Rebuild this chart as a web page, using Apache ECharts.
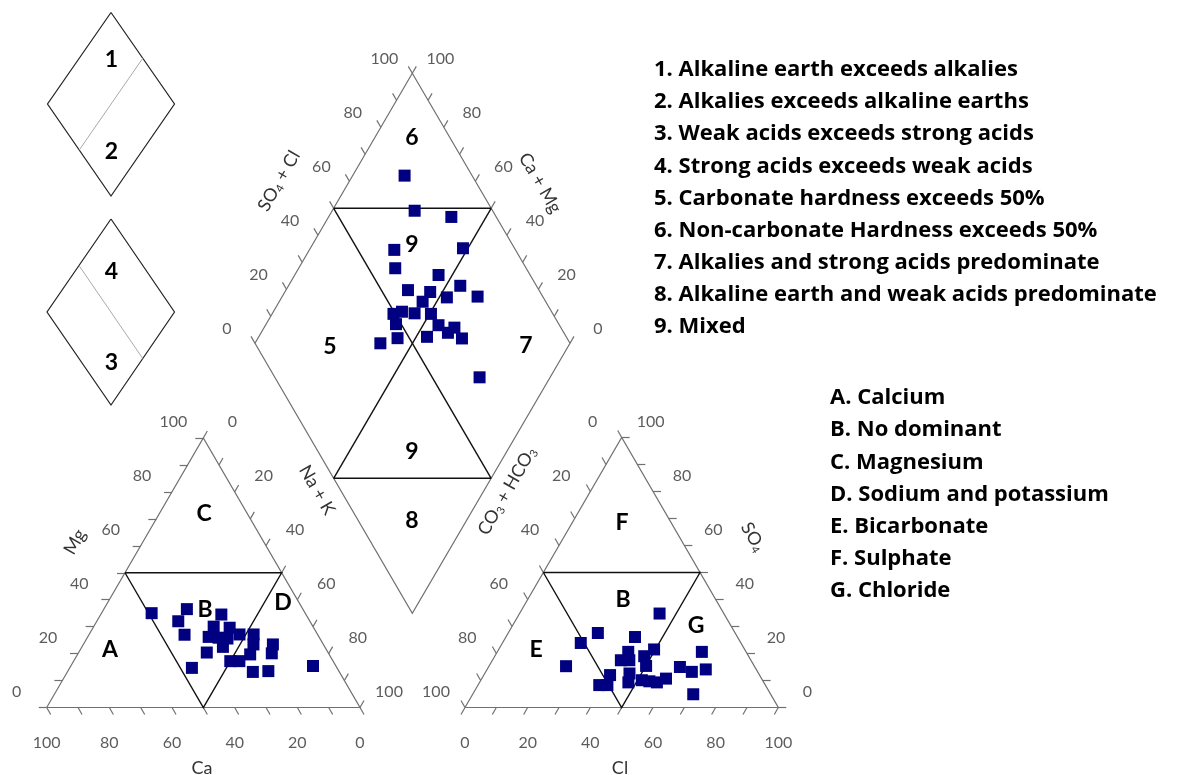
<!DOCTYPE html>
<html>
<head>
<meta charset="utf-8">
<script src="https://cdn.jsdelivr.net/npm/echarts@6/dist/echarts.min.js"></script>
<style>
  html, body { margin: 0; padding: 0; background: #fff; }
  #main { width: 1184px; height: 775px; }
</style>
</head>
<body>
<div id="main"></div>
<script>
// cation triangle samples (%)
var cationCa = [49, 37, 42, 42.5, 27, 31.7, 26.8, 35.2, 32.2, 29.5, 32.5, 24.9, 20.4, 22.3, 38.7, 25.2, 16.1, 18.1, 32.8, 29.9, 46.3, 27.6, 22.5, 7.3];
var cationMg = [35, 36.5, 32, 27, 34.5, 30, 29.6, 26.2, 25.9, 25.6, 22.5, 27.1, 27.1, 23.4, 20.4, 19.7, 23.4, 20.1, 17.2, 17.2, 14.7, 13.2, 13.5, 15.4];
// anion triangle samples (%)
var anionCl = [44.7, 28.6, 25, 41.2, 24.6, 41.8, 41, 43.7, 49.6, 47.7, 50.1, 40.3, 38.7, 41.3, 46.2, 47.5, 51.4, 54, 56.6, 58.8, 61.1, 65.8, 65.3, 69.8, 70.4];
var anionSO4 = [34.8, 27.6, 23.9, 26.1, 15.3, 20.6, 17.5, 17.5, 21.5, 19, 15.4, 12, 8.3, 8.3, 12.6, 9.3, 10.1, 9.7, 9.3, 10.7, 15, 13.2, 20.6, 14.1, 4.9];
// diamond samples (%)
var diamondSO4Cl = [78.5, 75.2, 85.7, 61.5, 83.6, 58.4, 70.9, 58.4, 65.1, 75.8, 60.9, 69.4, 79.3, 49.4, 52.5, 56.2, 61.3, 48.3, 61.6, 66.2, 63.2, 66.6, 46.2, 39.8, 55.8, 65];
var diamondCaMg = [83.6, 73.9, 61.1, 73.1, 51.6, 69.4, 54.4, 61.3, 53.9, 45.5, 54.5, 47.6, 38, 61.5, 59.2, 54.9, 49.6, 58.8, 45.1, 39.6, 40.7, 35.2, 55.7, 60.2, 46.6, 22.4];

var tickLabels = [0, 20, 40, 60, 80, 100];
var tickSteps = [0, 10, 20, 30, 40, 50, 60, 70, 80, 90, 100];

var classLegend = [
  '1. Alkaline earth exceeds alkalies',
  '2. Alkalies exceeds alkaline earths',
  '3. Weak acids exceeds strong acids',
  '4. Strong acids exceeds weak acids',
  '5. Carbonate hardness exceeds 50%',
  '6. Non-carbonate Hardness exceeds 50%',
  '7. Alkalies and strong acids predominate',
  '8. Alkaline earth and weak acids predominate',
  '9. Mixed'
];
var typeLegend = [
  'A. Calcium',
  'B. No dominant',
  'C. Magnesium',
  'D. Sodium and potassium',
  'E. Bicarbonate',
  'F. Sulphate',
  'G. Chloride'
];

// layout of the three plots, in page pixels
var CAT = { bl: [46.7, 707.5], br: [360, 707.5], top: [203.3, 438] };
var AN = { bl: [465, 707.5], br: [778.3, 707.5], top: [621.7, 437.5] };
var DIA = { top: [412.3, 73.3], left: [255, 343.3], right: [570, 343.3], bottom: [412.3, 613.3] };

function lerp(a, b, t) {
  return [a[0] + (b[0] - a[0]) * t, a[1] + (b[1] - a[1]) * t];
}
function mix(o, a, ta, b, tb) {
  return [o[0] + (a[0] - o[0]) * ta + (b[0] - o[0]) * tb,
          o[1] + (a[1] - o[1]) * ta + (b[1] - o[1]) * tb];
}
function cationXY(ca, mg) { return mix(CAT.br, CAT.bl, ca / 100, CAT.top, mg / 100); }
function anionXY(cl, so4) { return mix(AN.bl, AN.br, cl / 100, AN.top, so4 / 100); }
function diamondXY(s, c) { return mix(DIA.bottom, DIA.right, s / 100, DIA.left, c / 100); }

var S60 = Math.sqrt(3) / 2;
// each axis: from point (value 0), to point (value 100), tick direction, label offset
var axes = [
  { a: CAT.bl, b: CAT.top, dir: [-1, 0], off: [-30, -16] },        // Mg
  { a: CAT.top, b: CAT.br, dir: [0.5, -S60], off: [29, -16] },      // Na + K
  { a: CAT.br, b: CAT.bl, dir: [0.5, S60], off: [0, 35] },          // Ca
  { a: AN.top, b: AN.bl, dir: [-0.5, -S60], off: [-29, -16] },      // CO3 + HCO3
  { a: AN.br, b: AN.top, dir: [1, 0], off: [29, -16] },             // SO4
  { a: AN.bl, b: AN.br, dir: [-0.5, S60], off: [0, 35] },           // Cl
  { a: DIA.left, b: DIA.top, dir: [-0.5, -S60], off: [-28, -14] },  // SO4 + Cl
  { a: DIA.right, b: DIA.top, dir: [0.5, -S60], off: [28, -14] }    // Ca + Mg
];

var tickLines = [];
var labelData = [];
axes.forEach(function (ax) {
  tickSteps.forEach(function (v) {
    var p = lerp(ax.a, ax.b, v / 100);
    tickLines.push({ coords: [p, [p[0] + ax.dir[0] * 8, p[1] + ax.dir[1] * 8]] });
  });
  tickLabels.forEach(function (v) {
    var p = lerp(ax.a, ax.b, v / 100);
    labelData.push([p[0] + ax.off[0], p[1] + ax.off[1], v]);
  });
});

var frameLines = [
  { coords: [CAT.bl, CAT.br, CAT.top, CAT.bl] },
  { coords: [AN.bl, AN.br, AN.top, AN.bl] },
  { coords: [DIA.top, DIA.right, DIA.bottom, DIA.left, DIA.top] }
];

function innerTri(t) {
  var l = lerp(t.bl, t.top, 0.5), r = lerp(t.top, t.br, 0.5), m = lerp(t.bl, t.br, 0.5);
  return { coords: [l, r, m, l] };
}
var dUL = lerp(DIA.left, DIA.top, 0.5), dUR = lerp(DIA.top, DIA.right, 0.5);
var dLL = lerp(DIA.left, DIA.bottom, 0.5), dLR = lerp(DIA.bottom, DIA.right, 0.5);
var zoneLines = [
  innerTri(CAT), innerTri(AN),
  { coords: [dUL, dUR] }, { coords: [dLL, dLR] },
  { coords: [dUL, dLR] }, { coords: [dUR, dLL] }
];

// small key diamonds
var K1 = { top: [111, 12.5], left: [47.5, 104], right: [174.5, 104], bottom: [111, 196] };
var K2 = { top: [111, 219], left: [47, 312], right: [174.5, 312], bottom: [111, 405] };
var keyLines = [
  { coords: [K1.top, K1.right, K1.bottom, K1.left, K1.top] },
  { coords: [K2.top, K2.right, K2.bottom, K2.left, K2.top] }
];
var keySplit = [
  { coords: [lerp(K1.top, K1.right, 0.5), lerp(K1.left, K1.bottom, 0.5)] },
  { coords: [lerp(K2.left, K2.top, 0.5), lerp(K2.bottom, K2.right, 0.5)] }
];

var cationPts = cationCa.map(function (ca, i) { return cationXY(ca, cationMg[i]); });
var anionPts = anionCl.map(function (cl, i) { return anionXY(cl, anionSO4[i]); });
var diamondPts = diamondSO4Cl.map(function (s, i) { return diamondXY(s, diamondCaMg[i]); });

var FONT = 'Lato';
var LEGEND_FONT = '"Open Sans"';
function boldText(str, x, y, size, align, family) {
  return { type: 'text', x: x, y: y, silent: true,
    style: { text: str, fill: '#000', font: 'bold ' + size + 'px ' + (family || FONT),
             align: align || 'center', verticalAlign: 'middle' } };
}
function axisTitle(rich, x, y, rot) {
  return { type: 'text', x: x, y: y, rotation: rot, silent: true,
    style: { text: rich, align: 'center', verticalAlign: 'middle',
      fill: '#333', fontFamily: FONT, fontSize: 18, lineHeight: 20,
      rich: {
        n: { fontFamily: FONT, fontSize: 18, lineHeight: 20, fill: '#333' },
        s: { fontFamily: FONT, fontSize: 11, lineHeight: 12, verticalAlign: 'bottom', fill: '#333' }
      } } };
}

var graphics = [];
classLegend.forEach(function (t, i) { graphics.push(boldText(t, 654, 70 + i * 32.1, 22, 'left', LEGEND_FONT)); });
typeLegend.forEach(function (t, i) { graphics.push(boldText(t, 830, 398 + i * 32.2, 22, 'left', LEGEND_FONT)); });
[['1', 111.5, 60], ['2', 111.5, 152], ['4', 111.5, 272], ['3', 111.5, 363],
 ['A', 110, 650], ['B', 205, 610], ['C', 204, 514], ['D', 283, 603],
 ['E', 536, 650], ['F', 622, 523], ['B', 623, 600], ['G', 696, 626],
 ['6', 412, 138], ['9', 412, 245], ['5', 330, 347], ['7', 526, 346],
 ['9', 412, 452], ['8', 412, 521]].forEach(function (r) {
  graphics.push(boldText(r[0], r[1], r[2], 23));
});
var R = Math.PI / 3;
graphics.push(axisTitle('{n|Mg}', 75, 542, R));
graphics.push(axisTitle('{n|Ca}', 202, 768, 0));
graphics.push(axisTitle('{n|Na + K}', 317, 490, -R));
graphics.push(axisTitle('{n|CO}{s|3}{n| + HCO}{s|3}', 507, 491, R));
graphics.push(axisTitle('{n|SO}{s|4}', 753, 537, -R));
graphics.push(axisTitle('{n|Cl}', 620, 768, 0));
graphics.push(axisTitle('{n|SO}{s|4}{n| + Cl}', 279, 181, R));
graphics.push(axisTitle('{n|Ca + Mg}', 540, 183, -R));

var chart = echarts.init(document.getElementById('main'));
var pointStyle = { color: '#000080', opacity: 1 };
chart.setOption({
  animation: false,
  backgroundColor: '#fff',
  grid: { left: 0, right: 0, top: 0, bottom: 0 },
  xAxis: { type: 'value', min: 0, max: 1184, show: false },
  yAxis: { type: 'value', min: 0, max: 775, inverse: true, show: false },
  graphic: graphics,
  series: [
    { name: 'frame', type: 'lines', coordinateSystem: 'cartesian2d', polyline: true, silent: true,
      lineStyle: { color: '#707070', width: 1.2, opacity: 1 }, data: frameLines },
    { name: 'ticks', type: 'lines', coordinateSystem: 'cartesian2d', silent: true,
      lineStyle: { color: '#707070', width: 1.2, opacity: 1 }, data: tickLines },
    { name: 'zones', type: 'lines', coordinateSystem: 'cartesian2d', polyline: true, silent: true,
      lineStyle: { color: '#111', width: 1.4, opacity: 1 }, data: zoneLines },
    { name: 'keys', type: 'lines', coordinateSystem: 'cartesian2d', polyline: true, silent: true,
      lineStyle: { color: '#222', width: 1.2, opacity: 1 }, data: keyLines },
    { name: 'keySplit', type: 'lines', coordinateSystem: 'cartesian2d', silent: true,
      lineStyle: { color: '#aaa', width: 1, opacity: 1 }, data: keySplit },
    { name: 'tickLabels', type: 'scatter', symbolSize: 1, silent: true,
      itemStyle: { color: 'rgba(0,0,0,0)' },
      label: { show: true, position: 'inside', formatter: function (p) { return p.value[2]; },
               fontFamily: FONT, fontSize: 16, color: '#333' },
      data: labelData },
    { name: 'cations', type: 'scatter', symbol: 'rect', symbolSize: 12, z: 5, itemStyle: pointStyle, data: cationPts },
    { name: 'anions', type: 'scatter', symbol: 'rect', symbolSize: 12, z: 5, itemStyle: pointStyle, data: anionPts },
    { name: 'diamond', type: 'scatter', symbol: 'rect', symbolSize: 12, z: 5, itemStyle: pointStyle, data: diamondPts }
  ]
});
</script>
</body>
</html>
